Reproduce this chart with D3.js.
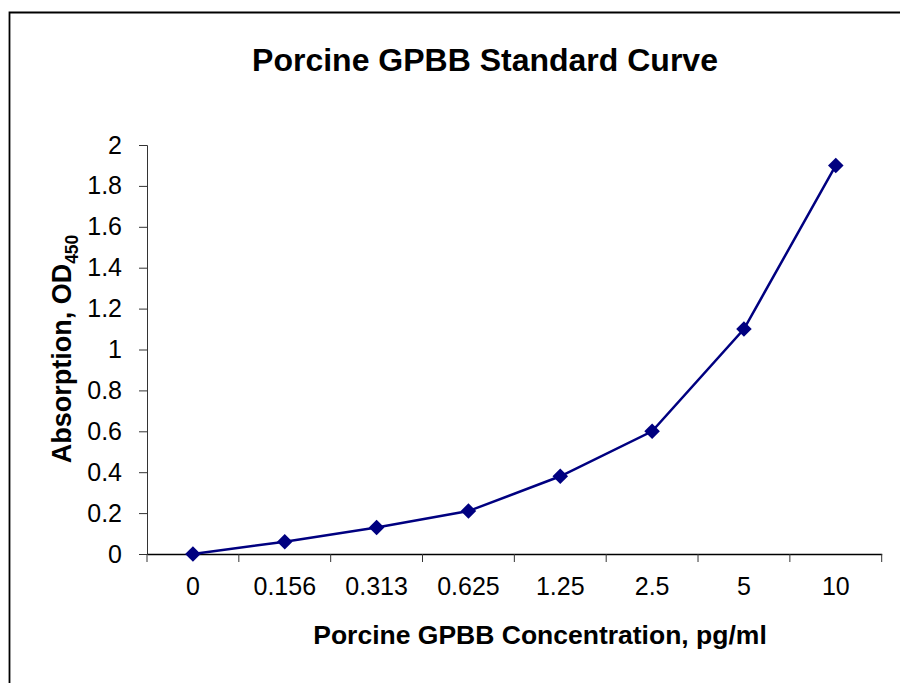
<!DOCTYPE html>
<html><head><meta charset="utf-8">
<script src="https://cdn.jsdelivr.net/npm/d3@7"></script>
<style>html,body{margin:0;padding:0;background:#fff}svg{display:block}</style>
</head><body>
<script>
const categories = ["0","0.156","0.313","0.625","1.25","2.5","5","10"];
const values = [0, 0.06, 0.13, 0.21, 0.38, 0.60, 1.10, 1.90];
const yTicks = [0,0.2,0.4,0.6,0.8,1,1.2,1.4,1.6,1.8,2];
const chartTitle = "Porcine GPBB Standard Curve";
const xTitle = "Porcine GPBB Concentration, pg/ml";

(function(){
const W = 900, H = 683;
const svg = d3.select("body").append("svg").attr("width", W).attr("height", H);
const font = "'Liberation Sans', Arial, sans-serif";

// outer frame (extends past right/bottom edges)
svg.append("path").attr("d","M9.5,700V12.5H910").attr("fill","none").attr("stroke","#000").attr("stroke-width",1.8);

const pL = 147, pR = 881.7, pT = 145, pB = 554;
const x = d3.scaleBand().domain(categories).range([pL, pR]);
const y = d3.scaleLinear().domain([0, 2]).range([pB, pT]);

// Y axis
const ya = svg.append("g").attr("transform", `translate(${pL},0)`)
  .call(d3.axisLeft(y).tickValues(yTicks).tickSize(8).tickPadding(17).tickFormat(d3.format("")));
ya.select(".domain").attr("stroke","#333").attr("stroke-width",1);
ya.selectAll(".tick line").attr("stroke","#333");
ya.selectAll("text").attr("font-family",font).attr("font-size",25).attr("fill","#000");

// X axis
const xa = svg.append("g").attr("transform", `translate(0,${pB})`)
  .call(d3.axisBottom(x).tickSize(0).tickPadding(23));
xa.select(".domain").attr("stroke","#000").attr("stroke-width",1.3);
xa.selectAll("text").attr("font-family",font).attr("font-size",25).attr("fill","#000");
const bounds = categories.map(c => x(c)).concat([pR]);
xa.selectAll(".sep").data(bounds).enter().append("line")
  .attr("x1", d => d).attr("x2", d => d).attr("y1", 0).attr("y2", 8)
  .attr("stroke","#333").attr("stroke-width",1);

// line
const line = d3.line().x((d,i) => x(categories[i]) + x.bandwidth()/2).y(d => y(d));
svg.append("path").datum(values).attr("d", line).attr("fill","none")
  .attr("stroke","#000080").attr("stroke-width",2.5);

// diamond markers
svg.selectAll(".pt").data(values).enter().append("rect")
  .attr("x",-5.5).attr("y",-5.5).attr("width",11).attr("height",11)
  .attr("fill","#000080")
  .attr("transform",(d,i) => `translate(${x(categories[i]) + x.bandwidth()/2},${y(d)}) rotate(45)`);

// titles
svg.append("text").attr("x", 485).attr("y", 71).attr("text-anchor","middle")
  .attr("font-family",font).attr("font-weight","bold").attr("font-size",32).text(chartTitle);
svg.append("text").attr("x", 540).attr("y", 644).attr("text-anchor","middle")
  .attr("font-family",font).attr("font-weight","bold").attr("font-size",26.5).text(xTitle);

const yt = svg.append("text").attr("transform","translate(71,349) rotate(-90)").attr("text-anchor","middle")
  .attr("font-family",font).attr("font-weight","bold").attr("font-size",27);
yt.append("tspan").text("Absorption, OD");
yt.append("tspan").attr("font-size",17.5).attr("dy",7).text("450");
})();
</script>
</body></html>
